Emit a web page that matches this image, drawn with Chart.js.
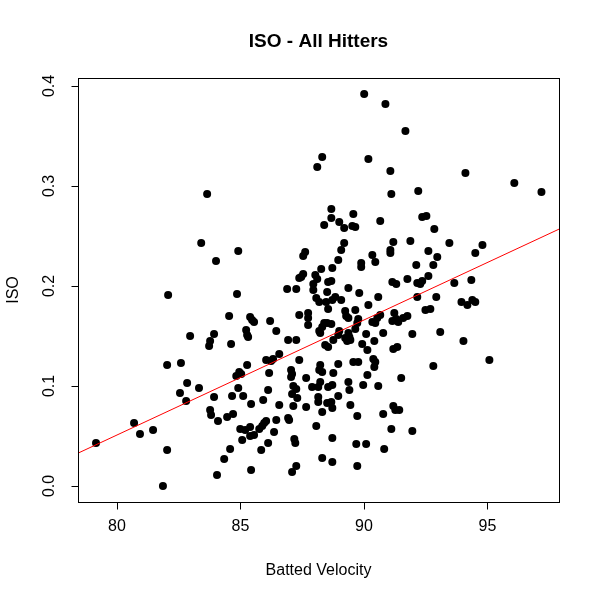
<!DOCTYPE html>
<html>
<head>
<meta charset="utf-8">
<script src="https://cdn.jsdelivr.net/npm/chart.js@4"></script>
<style>
  body { margin: 0; background: #fff; }
  canvas { display: block; }
</style>
</head>
<body>
<canvas id="myChart" width="600" height="600"></canvas>
<script>
  const battedVelocity = [
    79.15, 80.69, 80.93, 81.46, 81.86, 82.03, 82.07, 82.03, 82.59, 82.96, 82.84, 82.55, 82.80, 83.32, 83.65, 83.41, 84.91, 84.01, 87.38,
    86.89, 87.26, 84.86, 84.54, 85.39, 85.47, 85.55, 86.20, 85.23, 85.27, 85.31, 86.45, 83.93, 83.77, 83.73, 84.62, 86.93, 87.26, 87.38, 86.57,
    86.04, 86.24, 86.32, 85.27, 84.95, 84.83, 85.03, 86.16, 87.05, 87.09, 87.05, 87.38, 84.91, 86.12, 87.14, 87.26, 87.09, 83.93, 84.66, 85.11, 85.92,
    85.43, 86.57, 87.14, 87.30, 83.77, 83.81, 84.09, 84.46, 84.70, 84.99, 85.19, 85.39, 85.07, 85.39, 85.55, 85.76, 85.88, 85.96, 86.04, 86.45,
    86.93, 86.97, 86.36, 87.18, 87.22, 86.12, 85.84, 84.58, 84.34, 84.05, 85.43, 87.09, 87.26,
    90.01, 90.87, 88.31, 88.11, 90.18,
    88.68, 89.57, 88.68, 88.39, 89.00, 89.20, 89.53, 89.65, 90.66, 89.20, 89.08, 87.62, 87.54, 90.34, 90.46, 88.96, 89.89, 89.89, 88.27, 88.72,
    87.54, 87.46, 88.03, 88.11, 87.95, 88.55, 88.68, 87.95, 88.51, 89.37, 89.81, 90.58, 88.07, 88.19, 88.47, 88.84, 88.72, 89.08, 90.18,
    88.55, 89.24, 89.28, 89.37, 89.65, 87.74, 87.74, 87.74, 88.39, 88.51, 88.68, 88.31, 88.19, 88.23, 89.00, 88.96, 89.37, 89.41, 89.45, 89.24,
    89.32, 89.65, 89.73, 89.77, 90.34, 90.46, 90.54, 90.66, 90.09, 90.42, 90.78, 88.43, 88.55, 88.76, 89.93, 90.14, 89.57, 89.77, 88.96, 90.38,
    90.46, 90.42, 88.23, 88.19, 88.31, 88.76, 87.66, 87.90, 88.15, 88.23, 88.55, 88.72, 89.37, 89.41, 90.14, 89.97, 88.96, 88.15, 90.58,
    88.15, 88.51, 88.68, 88.72, 87.66, 89.45, 88.31, 89.73, 90.78, 88.07, 88.72, 89.69, 90.09, 90.82, 88.31, 88.72, 89.73,
    91.68, 91.07, 94.11, 91.11, 92.20, 92.36, 92.53, 92.85, 91.19, 91.88, 91.07, 91.07, 92.61, 93.46, 92.97, 92.12, 92.81, 92.61, 91.15, 91.31,
    91.76, 92.16, 92.36, 92.28, 93.66, 92.16, 92.93, 93.95,
    91.23, 91.15, 91.31, 91.39, 91.59, 91.76, 91.96, 93.09, 92.49, 92.69, 94.03, 91.19, 91.35, 92.81, 91.51, 91.19, 91.27, 91.43, 91.11, 91.96,
    96.09, 97.19, 94.80, 94.51, 94.35, 94.19, 94.39, 94.51, 95.08
  ];
  const iso = [
    0.043, 0.063, 0.052, 0.056, 0.000, 0.036, 0.191, 0.121, 0.123, 0.150, 0.103, 0.093, 0.085, 0.098, 0.292, 0.243, 0.235, 0.225, 0.208,
    0.197, 0.197, 0.192, 0.170, 0.169, 0.166, 0.164, 0.165, 0.156, 0.151, 0.149, 0.155, 0.152, 0.145, 0.140, 0.142, 0.146, 0.146, 0.171, 0.132,
    0.126, 0.125, 0.127, 0.121, 0.114, 0.110, 0.112, 0.113, 0.116, 0.112, 0.109, 0.126, 0.098, 0.096, 0.100, 0.097, 0.092, 0.089, 0.090, 0.090, 0.086,
    0.082, 0.081, 0.080, 0.088, 0.076, 0.071, 0.065, 0.069, 0.072, 0.057, 0.056, 0.059, 0.046, 0.050, 0.051, 0.057, 0.060, 0.063, 0.065, 0.066,
    0.068, 0.066, 0.054, 0.047, 0.043, 0.043, 0.036, 0.037, 0.027, 0.011, 0.016, 0.014, 0.020,
    0.392, 0.382, 0.329, 0.319, 0.327,
    0.277, 0.272, 0.268, 0.261, 0.264, 0.258, 0.260, 0.259, 0.265, 0.243, 0.236, 0.234, 0.230, 0.231, 0.224, 0.226, 0.223, 0.219, 0.217, 0.218,
    0.212, 0.209, 0.211, 0.207, 0.202, 0.204, 0.205, 0.196, 0.194, 0.198, 0.193, 0.189, 0.188, 0.184, 0.184, 0.189, 0.186, 0.186, 0.181,
    0.177, 0.175, 0.170, 0.168, 0.176, 0.173, 0.168, 0.161, 0.163, 0.163, 0.162, 0.159, 0.155, 0.153, 0.155, 0.151, 0.153, 0.149, 0.146, 0.148,
    0.145, 0.157, 0.163, 0.167, 0.164, 0.163, 0.168, 0.171, 0.152, 0.145, 0.153, 0.141, 0.139, 0.146, 0.142, 0.136, 0.124, 0.124, 0.122, 0.127,
    0.124, 0.119, 0.121, 0.116, 0.114, 0.113, 0.108, 0.099, 0.099, 0.104, 0.099, 0.101, 0.104, 0.096, 0.111, 0.101, 0.090, 0.089, 0.100,
    0.084, 0.083, 0.084, 0.078, 0.079, 0.081, 0.074, 0.070, 0.072, 0.060, 0.048, 0.042, 0.042, 0.037, 0.028, 0.024, 0.020,
    0.355, 0.315, 0.313, 0.292, 0.295, 0.269, 0.270, 0.257, 0.244, 0.245, 0.236, 0.233, 0.235, 0.243, 0.229, 0.221, 0.221, 0.210, 0.204, 0.202,
    0.207, 0.203, 0.205, 0.202, 0.203, 0.189, 0.189, 0.184,
    0.173, 0.165, 0.167, 0.164, 0.168, 0.170, 0.152, 0.154, 0.176, 0.177, 0.145, 0.137, 0.139, 0.120, 0.108, 0.080, 0.076, 0.076, 0.057, 0.055,
    0.303, 0.294, 0.241, 0.233, 0.206, 0.181, 0.186, 0.184, 0.126
  ];
  const xTicks = [80, 85, 90, 95];
  const xTickLabels = ["80", "85", "90", "95"];
  const yTicks = [0, 0.1, 0.2, 0.3, 0.4];
  const yTickLabels = ["0.0", "0.1", "0.2", "0.3", "0.4"];
  // fitted line: ISO = intercept + slope * velocity
  const lineIntercept = -0.869;
  const lineSlope = 0.0115;

  const xMin = 78.42, xMax = 97.9;
  const yMin = -0.016, yMax = 0.408;
  const font = "'Liberation Sans', Arial, sans-serif";

  const points = battedVelocity.map((v, i) => ({ x: v, y: iso[i] }));
  const fitLine = [xMin, xMax].map((v) => ({ x: v, y: lineIntercept + lineSlope * v }));

  // R style frame, ticks and labels
  const rAxes = {
    id: "rAxes",
    beforeDraw(chart) {
      const c = chart.ctx;
      c.save();
      c.fillStyle = "#fff";
      c.fillRect(0, 0, chart.width, chart.height);
      c.restore();
    },
    afterDraw(chart) {
      const c = chart.ctx;
      const a = chart.chartArea;
      const xs = chart.scales.x, ys = chart.scales.y;
      c.save();
      c.strokeStyle = "#000";
      c.lineWidth = 1;
      c.strokeRect(a.left + 0.5, a.top + 0.5, a.right - a.left, a.bottom - a.top);

      c.beginPath();
      xTicks.forEach((t) => {
        const px = Math.round(xs.getPixelForValue(t)) + 0.5;
        c.moveTo(px, a.bottom + 0.5);
        c.lineTo(px, a.bottom + 7.5);
      });
      yTicks.forEach((t) => {
        const py = Math.round(ys.getPixelForValue(t)) + 0.5;
        c.moveTo(a.left + 0.5, py);
        c.lineTo(a.left - 6.5, py);
      });
      c.stroke();

      c.fillStyle = "#000";
      c.font = "16px " + font;
      c.textAlign = "center";
      c.textBaseline = "middle";
      xTicks.forEach((t, i) => {
        c.fillText(xTickLabels[i], xs.getPixelForValue(t), a.bottom + 25);
      });
      yTicks.forEach((t, i) => {
        c.save();
        c.translate(a.left - 28, ys.getPixelForValue(t));
        c.rotate(-Math.PI / 2);
        c.fillText(yTickLabels[i], 0, 0);
        c.restore();
      });

      const cx = (a.left + a.right) / 2, cy = (a.top + a.bottom) / 2;
      c.fillText("Batted Velocity", cx, a.bottom + 69);
      c.save();
      c.translate(14, cy);
      c.rotate(-Math.PI / 2);
      c.fillText("ISO", 0, 0);
      c.restore();

      c.font = "bold 19px " + font;
      c.fillText("ISO - All Hitters", cx, 42);
      c.restore();
    }
  };

  new Chart(document.getElementById("myChart"), {
    type: "scatter",
    data: {
      datasets: [
        {
          type: "line",
          data: fitLine,
          borderColor: "#ff0000",
          borderWidth: 1,
          pointRadius: 0,
          order: 0,
        },
        {
          data: points,
          backgroundColor: "#000",
          borderWidth: 0,
          pointRadius: 4,
          pointHoverRadius: 4,
          order: 1,
        },
      ],
    },
    options: {
      responsive: false,
      animation: false,
      devicePixelRatio: 1,
      layout: { padding: { left: 78, right: 41, top: 78, bottom: 98 } },
      plugins: { legend: { display: false }, tooltip: { enabled: false }, title: { display: false } },
      scales: {
        x: { type: "linear", min: xMin, max: xMax, display: false },
        y: { type: "linear", min: yMin, max: yMax, display: false },
      },
    },
    plugins: [rAxes],
  });
</script>
</body>
</html>
